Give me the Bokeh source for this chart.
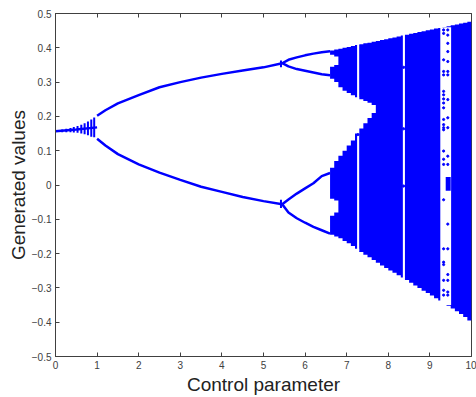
import numpy as np
from bokeh.plotting import figure
from bokeh.models import Range1d, LinearAxis, FixedTicker, Label
from bokeh.embed import file_html
from bokeh.resources import INLINE

BLUE = "#0000FF"

# ---- period-1 fixed point and its transient spread ----
p1_x = [0.0, 0.5, 1.0]
p1_y = [0.157, 0.162, 0.168]
tick_x = [0.16, 0.26, 0.36, 0.44, 0.53, 0.62, 0.70, 0.78, 0.86, 0.93]
tick_c = [0.158, 0.159, 0.160, 0.161, 0.162, 0.163, 0.164, 0.165, 0.166, 0.168]
tick_h = [0.004, 0.005, 0.006, 0.008, 0.010, 0.013, 0.016, 0.020, 0.025, 0.029]

# ---- period-2 branches ----
p2_x = [1.0, 1.2, 1.5, 2.0, 2.5, 3.0, 3.5, 4.0, 4.5, 5.0, 5.45]
p2_up = [0.202, 0.218, 0.238, 0.262, 0.285, 0.300, 0.313, 0.324, 0.334, 0.343, 0.355]
p2_lo = [0.135, 0.115, 0.090, 0.060, 0.036, 0.015, -0.005, -0.020, -0.035, -0.047, -0.056]

# transient crosses at the second doubling
cross_x = [5.42, 5.42]
cross_c = [0.353, -0.055]
cross_h = [0.010, 0.012]

# ---- period-4 branches ----
p4_x = [5.45, 5.6, 5.8, 6.0, 6.2, 6.4, 6.6]
p4_uu = [0.355, 0.365, 0.372, 0.378, 0.383, 0.387, 0.390]
p4_ul = [0.355, 0.346, 0.338, 0.333, 0.328, 0.323, 0.320]
p4_lu = [-0.056, -0.042, -0.025, -0.010, 0.005, 0.026, 0.035]
p4_ll = [-0.056, -0.080, -0.097, -0.110, -0.122, -0.132, -0.142]

# ---- chaotic region (one column per 0.1 of the parameter) ----
ch_x = [6.6, 6.7, 6.8, 6.9, 7.0, 7.1, 7.2, 7.3, 7.4, 7.5, 7.6, 7.7, 7.8, 7.9,
        8.0, 8.1, 8.2, 8.3, 8.4, 8.5, 8.6, 8.7, 8.8, 8.9, 9.0, 9.1, 9.2, 9.3,
        9.4, 9.5, 9.6, 9.7, 9.8, 9.9]
ch_top = [0.392, 0.395, 0.397, 0.400, 0.402, 0.405, 0.408, 0.410, 0.413, 0.415,
          0.418, 0.420, 0.423, 0.425, 0.428, 0.430, 0.433, 0.436, 0.438, 0.441,
          0.443, 0.446, 0.448, 0.451, 0.453, 0.456, 0.458, 0.461, 0.463, 0.466,
          0.468, 0.471, 0.473, 0.476]
ch_bot = [-0.145, -0.150, -0.155, -0.163, -0.170, -0.178, -0.186, -0.195, -0.203,
          -0.211, -0.219, -0.227, -0.235, -0.242, -0.249, -0.256, -0.263, -0.270,
          -0.277, -0.285, -0.293, -0.300, -0.308, -0.315, -0.322, -0.330, -0.337,
          -0.345, -0.352, -0.360, -0.368, -0.376, -0.385, -0.395]

# inner empty region between the upper and lower chaotic bands
hole_x = [6.6, 6.7, 6.8, 6.9, 7.0, 7.1, 7.2, 7.3, 7.4, 7.5, 7.6]
hole_hi = [0.310, 0.300, 0.285, 0.275, 0.268, 0.262, 0.256, 0.250, 0.245, 0.240, 0.233]
hole_lo = [0.050, 0.070, 0.085, 0.100, 0.115, 0.130, 0.150, 0.165, 0.180, 0.195, 0.210]

# small empty notches between sub-bands
notch_up_x = [6.6, 6.7]
notch_up_hi = [0.380, 0.375]
notch_up_lo = [0.345, 0.350]
notch_dn_x = [6.6, 6.7]
notch_dn_hi = [-0.040, -0.045]
notch_dn_lo = [-0.090, -0.080]

# periodic windows (parameter start, end)
win_x0 = [7.25, 8.35, 9.25]
win_x1 = [7.30, 8.40, 9.51]
win_top = [0.413, 0.440, 0.460]
win_bot = [-0.193, -0.271, -0.350]

# isolated points inside the windows
dot_x = [9.33, 9.43, 9.33, 9.43, 9.43, 9.43, 9.33, 9.43, 9.33, 9.43, 9.33, 9.43,
         9.33, 9.33, 9.33, 9.33, 9.43, 9.33, 9.43, 9.33, 9.43, 9.33, 9.33,
         9.33, 9.33, 9.43, 9.33, 9.33, 9.43, 9.33, 9.43, 9.43,
         9.33, 9.33, 9.33, 9.43, 9.33, 9.43, 9.33, 9.43, 9.43, 9.33,
         7.27, 8.37, 8.37, 8.37]
dot_y = [0.452, 0.452, 0.442, 0.437, 0.413, 0.389, 0.365, 0.360, 0.331, 0.331,
         0.321, 0.321, 0.273, 0.263, 0.251, 0.239, 0.249, 0.225, 0.196, 0.191,
         0.167, 0.167, 0.176,
         0.161, 0.099, 0.084, 0.075, 0.060, 0.060, -0.043, -0.114, -0.186,
         -0.186, -0.225, -0.232, -0.261, -0.278, -0.278, -0.307, -0.312, -0.321, -0.321,
         0.147, 0.343, 0.164, -0.003]
clus_x0 = [9.38]
clus_x1 = [9.50]
clus_lo = [-0.017]
clus_hi = [0.023]

x_ticks = [0, 1, 2, 3, 4, 5, 6, 7, 8, 9, 10]
y_ticks = [-0.5, -0.4, -0.3, -0.2, -0.1, 0, 0.1, 0.2, 0.3, 0.4, 0.5]

GRAY = "#404040"
FONT = "Liberation Sans"
COL_W = 0.1   # column width in parameter units
EDGE = 0.02   # white gaps start a hair earlier to hide the anti-aliased edge


def closed(xs, *ys, lead=0.0):
    """Add the right edge of the last column so a step area covers it."""
    out = [[xs[0] - lead] + list(xs[1:]) + [xs[-1] + COL_W]]
    for y in ys:
        out.append(list(y) + [y[-1]])
    return out


p = figure(width=476, height=397, output_backend="svg", toolbar_location=None,
           x_range=Range1d(0, 10), y_range=Range1d(-0.5, 0.5),
           min_border_left=55, min_border_right=5, min_border_top=13,
           min_border_bottom=39)
p.grid.visible = False
p.outline_line_color = GRAY
p.outline_line_width = 1
p.background_fill_color = "white"
p.border_fill_color = "white"

# period 1
p.line(p1_x, p1_y, line_color=BLUE, line_width=2.5)
p.segment(x0=tick_x, x1=tick_x,
          y0=[c - h for c, h in zip(tick_c, tick_h)],
          y1=[c + h for c, h in zip(tick_c, tick_h)],
          line_color=BLUE, line_width=2)
# period 2
p.line(p2_x, p2_up, line_color=BLUE, line_width=2.5)
p.line(p2_x, p2_lo, line_color=BLUE, line_width=2.5)
p.segment(x0=cross_x, x1=cross_x,
          y0=[c - h for c, h in zip(cross_c, cross_h)],
          y1=[c + h for c, h in zip(cross_c, cross_h)],
          line_color=BLUE, line_width=2)
# period 4
for br in (p4_uu, p4_ul, p4_lu, p4_ll):
    p.line(p4_x, br, line_color=BLUE, line_width=2.5)

# chaos envelope
cx, ct, cb = closed(ch_x, ch_top, ch_bot)
p.varea_step(x=cx, y1=cb, y2=ct, step_mode="after", fill_color=BLUE)
# empty parts inside it
for gx, ghi, glo in ((hole_x, hole_hi, hole_lo),
                     (notch_up_x, notch_up_hi, notch_up_lo),
                     (notch_dn_x, notch_dn_hi, notch_dn_lo)):
    hx, hh, hl = closed(gx, ghi, glo, lead=EDGE)
    p.varea_step(x=hx, y1=hl, y2=hh, step_mode="after", fill_color="white")

p.quad(left=win_x0, right=win_x1, bottom=win_bot, top=win_top,
       fill_color="white", line_color=None)
p.quad(left=clus_x0, right=clus_x1, bottom=clus_lo, top=clus_hi,
       fill_color=BLUE, line_color=None)
p.scatter(dot_x, dot_y, size=2.2, color=BLUE)

# axes styling
for ax in (p.xaxis[0], p.yaxis[0]):
    ax.axis_line_color = GRAY
    ax.major_tick_line_color = GRAY
    ax.major_tick_in = 4
    ax.major_tick_out = 0
    ax.minor_tick_line_color = None
    ax.major_label_text_color = GRAY
    ax.major_label_text_font = FONT
    ax.major_label_text_font_size = "10px"
    ax.axis_label_text_font = FONT
    ax.axis_label_text_font_size = "19px"
    ax.axis_label_text_font_style = "normal"
    ax.axis_label_text_color = "#222222"

p.xaxis.ticker = FixedTicker(ticks=x_ticks)
p.yaxis.ticker = FixedTicker(ticks=y_ticks)
p.yaxis.major_label_overrides = {0: "0"}
p.xaxis.axis_label = "Control parameter"
p.yaxis.axis_label = "Generated values"
p.xaxis.major_label_standoff = 4
p.yaxis.major_label_standoff = 4
p.xaxis.axis_label_standoff = 2
p.yaxis.axis_label_standoff = 0

top_ax = LinearAxis(ticker=FixedTicker(ticks=x_ticks), major_label_text_color=None,
                    axis_line_color=GRAY, major_tick_line_color=GRAY,
                    major_tick_in=4, major_tick_out=0, minor_tick_line_color=None)
p.add_layout(top_ax, "above")

p.add_layout(Label(x=10, y=-0.5, text="×10⁶", text_align="right",
                   text_baseline="top", y_offset=-26, text_color=GRAY,
                   text_font=FONT, text_font_size="10px"))

open("out.html", "w").write(file_html(p, INLINE))
